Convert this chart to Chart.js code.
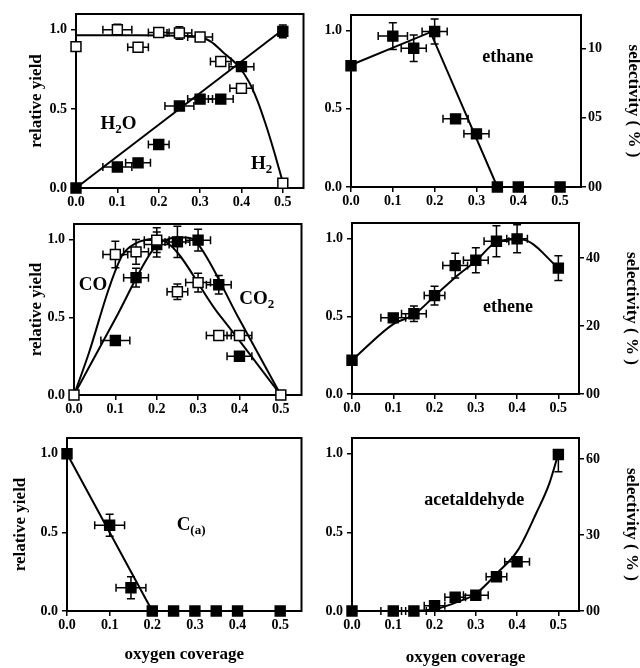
<!DOCTYPE html>
<html lang="en">
<head>
    <meta charset="UTF-8">
    <title>Relative yield vs oxygen coverage</title>
    <script src="https://cdn.jsdelivr.net/npm/chart.js"></script>
    <style>
        body {
            margin: 0;
            background: #fff;
        }
        #figure {
            position: relative;
            width: 640px;
            height: 668px;
            overflow: hidden;
            background: #fff;
        }
        #figure canvas {
            position: absolute;
        }
    </style>
</head>
<body>
    <div id="figure">
        <canvas id="p1" width="312" height="220" style="left:0;top:0"></canvas>
        <canvas id="p2" width="325" height="220" style="left:320px;top:0"></canvas>
        <canvas id="p3" width="310" height="215" style="left:0;top:210px"></canvas>
        <canvas id="p4" width="325" height="215" style="left:320px;top:210px"></canvas>
        <canvas id="p5" width="310" height="243" style="left:0;top:425px"></canvas>
        <canvas id="p6" width="325" height="243" style="left:320px;top:425px"></canvas>
    </div>
    <script>
        // ---- data ----
        const coverage = [0, 0.1, 0.15, 0.2, 0.25, 0.3, 0.35, 0.4, 0.5];
        const xTicks = [0, 0.1, 0.2, 0.3, 0.4, 0.5];
        const yTicks = [0, 0.5, 1.0];

        // H2 (open) and H2O (filled)
        const h2Yield = [0.894, 1.0, 0.89, 0.983, 0.98, 0.955, 0.80, 0.63, 0.03];
        const h2XErr = [0, 0.035, 0.025, 0.025, 0.03, 0.03, 0.025, 0.028, 0];
        const h2YErr = [0, 0.035, 0, 0, 0.04, 0, 0, 0, 0];
        const h2oYield = [0, 0.133, 0.159, 0.275, 0.518, 0.562, 0.562, 0.767, 0.99];
        const h2oXErr = [0, 0.035, 0.03, 0.025, 0.035, 0.03, 0.03, 0.03, 0];
        const h2oYErr = [0, 0, 0, 0, 0, 0, 0, 0, 0.04];
        const h2FitX = [0, 0.15, 0.29, 0.326, 0.358, 0.39, 0.418, 0.438, 0.458, 0.478, 0.5];
        const h2FitY = [0.965, 0.965, 0.958, 0.926, 0.852, 0.778, 0.672, 0.556, 0.408, 0.239, 0.035];
        const h2oFitX = [0, 0.5];
        const h2oFitY = [0, 1.0];

        // ethane
        const ethaneYield = [0.775, 0.965, 0.887, 0.994, 0.436, 0.34, 0, 0, 0];
        const ethaneXErr = [0, 0.035, 0.03, 0.03, 0.03, 0.03, 0, 0, 0];
        const ethaneYErr = [0, 0.085, 0.085, 0.08, 0, 0, 0, 0, 0];
        const ethaneFitX = [0, 0.19, 0.35, 0.5];
        const ethaneFitY = [0.78, 0.99, 0, 0];
        const ethaneSelTicks = [0, 5, 10];
        const ethaneSelLabels = ['00', '05', '10'];

        // CO (open) and CO2 (filled)
        const coYield = [0, 0.904, 0.921, 0.996, 0.664, 0.723, 0.383, 0.383, 0];
        const coXErr = [0, 0.03, 0.03, 0.03, 0.025, 0.03, 0.03, 0.03, 0];
        const coYErr = [0, 0.085, 0.08, 0.08, 0.05, 0.06, 0, 0, 0];
        const co2Coverage = [0.1, 0.15, 0.2, 0.25, 0.3, 0.35, 0.4];
        const co2Yield = [0.351, 0.755, 0.968, 0.985, 0.996, 0.709, 0.249];
        const co2XErr = [0.035, 0.03, 0.03, 0.03, 0.03, 0.03, 0.03];
        const co2YErr = [0, 0.06, 0.08, 0.1, 0.07, 0.06, 0];
        const coFitX = [0, 0.036, 0.085, 0.117, 0.149, 0.2, 0.35, 0.5];
        const coFitY = [0, 0.27, 0.69, 0.90, 0.975, 1.005, 0.52, 0];
        const co2FitX = [0, 0.1, 0.195, 0.22, 0.25, 0.28, 0.3, 0.4, 0.5];
        const co2FitY = [0, 0.49, 0.95, 0.995, 1.015, 1.01, 0.97, 0.485, 0];

        // ethene
        const etheneYield = [0.217, 0.49, 0.516, 0.633, 0.826, 0.86, 0.983, 0.998, 0.81];
        const etheneXErr = [0, 0.03, 0.03, 0.025, 0.03, 0.03, 0.03, 0.025, 0];
        const etheneYErr = [0, 0, 0.05, 0.06, 0.08, 0.08, 0.1, 0.09, 0.08];
        const etheneFitX = [0, 0.1, 0.15, 0.2, 0.25, 0.3, 0.35, 0.4, 0.42, 0.5];
        const etheneFitY = [0.217, 0.45, 0.51, 0.63, 0.75, 0.856, 0.977, 0.995, 0.99, 0.81];
        const etheneSelTicks = [0, 20, 40];
        const etheneSelLabels = ['00', '20', '40'];

        // C(a)
        const carbonYield = [1.0, 0.545, 0.148, 0, 0, 0, 0, 0, 0];
        const carbonXErr = [0, 0.035, 0.035, 0, 0, 0, 0, 0, 0];
        const carbonYErr = [0, 0.07, 0.07, 0, 0, 0, 0, 0, 0];
        const carbonFitX = [0, 0.2, 0.5];
        const carbonFitY = [1.0, 0, 0];

        // acetaldehyde
        const acetYield = [0, 0, 0, 0.034, 0.087, 0.10, 0.218, 0.313, 0.995];
        const acetXErr = [0, 0.03, 0.03, 0.025, 0.025, 0.03, 0.025, 0.03, 0];
        const acetYErr = [0, 0, 0, 0, 0, 0, 0, 0, [0.11, 0]];
        const acetFitX = [0, 0.15, 0.21, 0.257, 0.3, 0.351, 0.402, 0.446, 0.478, 0.5];
        const acetFitY = [0, 0, 0.017, 0.059, 0.11, 0.239, 0.387, 0.62, 0.81, 1.0];
        const acetSelTicks = [0, 30, 60];
        const acetSelLabels = ['00', '30', '60'];

        // ---- drawing ----
        const family = '"Liberation Serif", "Times New Roman", serif';
        const tickFont = { family, size: 14, weight: 'bold' };
        const titleFont = { family, size: 17, weight: 'bold' };

        const pts = (xs, ys) => xs.map((x, i) => ({ x, y: ys[i] }));

        const markers = (xs, ys, errX, errY, open) => ({
            data: pts(xs, ys),
            showLine: false,
            pointStyle: 'rect',
            pointRadius: 7,
            pointBorderWidth: 1.5,
            pointBorderColor: '#000',
            pointBackgroundColor: open ? '#fff' : '#000',
            errX, errY,
            clip: false,
        });

        const fit = (xs, ys, smooth) => ({
            data: pts(xs, ys),
            showLine: true,
            borderColor: '#000',
            borderWidth: 2,
            pointRadius: 0,
            tension: 0,
            cubicInterpolationMode: smooth ? 'monotone' : 'default',
            clip: false,
        });

        const frame = {
            id: 'frame',
            beforeDatasetsDraw(chart) {
                const { ctx, chartArea: a } = chart;
                ctx.save();
                ctx.strokeStyle = '#000';
                ctx.lineWidth = 2;
                ctx.strokeRect(a.left, a.top, a.right - a.left, a.bottom - a.top);
                ctx.restore();
            }
        };

        const errorBars = {
            id: 'errorBars',
            beforeDatasetsDraw(chart) {
                const { ctx, scales: { x, y } } = chart;
                ctx.save();
                ctx.strokeStyle = '#000';
                ctx.lineWidth = 1.5;
                chart.data.datasets.forEach(ds => {
                    if (!ds.errX) return;
                    ds.data.forEach((p, i) => {
                        const px = x.getPixelForValue(p.x);
                        const py = y.getPixelForValue(p.y);
                        const ex = ds.errX[i];
                        ctx.beginPath();
                        if (ex) {
                            const a = x.getPixelForValue(p.x - ex);
                            const b = x.getPixelForValue(p.x + ex);
                            ctx.moveTo(a, py); ctx.lineTo(b, py);
                            ctx.moveTo(a, py - 4); ctx.lineTo(a, py + 4);
                            ctx.moveTo(b, py - 4); ctx.lineTo(b, py + 4);
                        }
                        const ey = ds.errY[i];
                        if (ey) {
                            const [lo, hi] = Array.isArray(ey) ? ey : [ey, ey];
                            const a = y.getPixelForValue(p.y - lo);
                            const b = y.getPixelForValue(p.y + hi);
                            ctx.moveTo(px, a); ctx.lineTo(px, b);
                            if (lo) { ctx.moveTo(px - 4, a); ctx.lineTo(px + 4, a); }
                            if (hi) { ctx.moveTo(px - 4, b); ctx.lineTo(px + 4, b); }
                        }
                        ctx.stroke();
                    });
                });
                ctx.restore();
            }
        };

        const notes = {
            id: 'notes',
            afterDatasetsDraw(chart, args, opts) {
                const { ctx, scales: { x, y } } = chart;
                ctx.save();
                ctx.fillStyle = '#000';
                ctx.textBaseline = 'middle';
                ctx.textAlign = 'left';
                (opts.items || []).forEach(item => {
                    const size = item.size || 18;
                    const main = `bold ${size}px ${family}`;
                    const sub = `bold ${Math.round(size * 0.7)}px ${family}`;
                    let w = 0;
                    item.parts.forEach(([t, s]) => { ctx.font = s ? sub : main; w += ctx.measureText(t).width; });
                    let px = x.getPixelForValue(item.x) - w / 2;
                    const py = y.getPixelForValue(item.y);
                    item.parts.forEach(([t, s]) => {
                        ctx.font = s ? sub : main;
                        ctx.fillText(t, px, s ? py + 6 : py);
                        px += ctx.measureText(t).width;
                    });
                });
                ctx.restore();
            }
        };

        const tickGrid = (len) => ({
            display: true, drawOnChartArea: false, drawTicks: true,
            tickLength: len, color: '#000', lineWidth: 1.5,
        });

        function panel(id, datasets, o) {
            const scales = {
                x: {
                    type: 'linear', min: 0, max: o.xMax,
                    grid: tickGrid(5), border: { display: false },
                    afterBuildTicks: s => { s.ticks = xTicks.map(v => ({ value: v })); },
                    afterFit: s => { s.height = o.hb; },
                    ticks: { font: tickFont, color: '#000', padding: 1, autoSkip: false, maxRotation: 0, callback: v => v.toFixed(1) },
                    title: o.xTitle == null ? { display: false } : {
                        display: true, text: 'oxygen coverage', font: titleFont, color: '#000',
                        padding: { top: 0, bottom: o.xTitle }
                    },
                },
                y: {
                    type: 'linear', position: 'left', min: 0, max: 1.1,
                    grid: tickGrid(5), border: { display: false },
                    afterBuildTicks: s => { s.ticks = yTicks.map(v => ({ value: v })); },
                    afterFit: s => { s.width = o.wl; },
                    ticks: { font: tickFont, color: '#000', padding: 4, callback: v => v.toFixed(1) },
                    title: o.yTitle == null ? { display: false } : {
                        display: true, text: 'relative yield', font: titleFont, color: '#000',
                        padding: { top: o.yTitle, bottom: 0 }
                    },
                },
            };
            if (o.sel) {
                scales.y2 = {
                    type: 'linear', position: 'right', min: 0, max: o.sel.max,
                    grid: tickGrid(5), border: { display: false },
                    afterBuildTicks: s => { s.ticks = o.sel.ticks.map(v => ({ value: v })); },
                    afterFit: s => { s.width = o.wr; },
                    ticks: { font: tickFont, color: '#000', padding: 2, callback: (v, i) => o.sel.labels[i] },
                    title: {
                        display: true, text: 'selectivity ( % )', font: titleFont, color: '#000',
                        padding: { top: o.sel.titlePad, bottom: 0 }
                    },
                };
            }
            return new Chart(document.getElementById(id), {
                type: 'scatter',
                data: { datasets },
                options: {
                    responsive: false,
                    animation: false,
                    events: [],
                    layout: { padding: { left: 0, top: o.pt, right: o.pr || 0, bottom: 0 } },
                    scales,
                    plugins: {
                        legend: { display: false },
                        tooltip: { enabled: false },
                        notes: { items: o.notes },
                    },
                },
                plugins: [frame, errorBars, notes],
            });
        }

        panel('p1', [
            markers(coverage, h2Yield, h2XErr, h2YErr, true),
            markers(coverage, h2oYield, h2oXErr, h2oYErr, false),
            fit(h2FitX, h2FitY, true),
            fit(h2oFitX, h2oFitY, false),
        ], {
            xMax: 0.55, pt: 14, pr: 7, wl: 76, hb: 32, yTitle: 26,
            notes: [
                { x: 0.103, y: 0.405, size: 19, parts: [['H', 0], ['2', 1], ['O', 0]] },
                { x: 0.449, y: 0.152, size: 19, parts: [['H', 0], ['2', 1]] },
            ],
        });

        panel('p2', [
            markers(coverage, ethaneYield, ethaneXErr, ethaneYErr, false),
            fit(ethaneFitX, ethaneFitY, false),
        ], {
            xMax: 0.55, pt: 15, wl: 31, wr: 64, hb: 33,
            sel: { max: 12.4, ticks: ethaneSelTicks, labels: ethaneSelLabels, titlePad: 1 },
            notes: [{ x: 0.375, y: 0.831, parts: [['ethane', 0]] }],
        });

        panel('p3', [
            markers(coverage, coYield, coXErr, coYErr, true),
            markers(co2Coverage, co2Yield, co2XErr, co2YErr, false),
            fit(coFitX, coFitY, true),
            fit(co2FitX, co2FitY, true),
        ], {
            xMax: 0.55, pt: 14, pr: 7, wl: 74, hb: 30, yTitle: 26,
            notes: [
                { x: 0.046, y: 0.708, size: 19, parts: [['CO', 0]] },
                { x: 0.442, y: 0.618, size: 19, parts: [['CO', 0], ['2', 1]] },
            ],
        });

        panel('p4', [
            markers(coverage, etheneYield, etheneXErr, etheneYErr, false),
            fit(etheneFitX, etheneFitY, true),
        ], {
            xMax: 0.55, pt: 13, wl: 32, wr: 66, hb: 31,
            sel: { max: 50.3, ticks: etheneSelTicks, labels: etheneSelLabels, titlePad: 3 },
            notes: [{ x: 0.378, y: 0.555, parts: [['ethene', 0]] }],
        });

        panel('p5', [
            markers(coverage, carbonYield, carbonXErr, carbonYErr, false),
            fit(carbonFitX, carbonFitY, false),
        ], {
            xMax: 0.55, pt: 13, pr: 7, wl: 67, hb: 57, yTitle: 10, xTitle: 3,
            notes: [{ x: 0.291, y: 0.547, size: 19, parts: [['C', 0], ['(a)', 1]] }],
        });

        panel('p6', [
            markers(coverage, acetYield, acetXErr, acetYErr, false),
            fit(acetFitX, acetFitY, true),
        ], {
            xMax: 0.55, pt: 13, wl: 32, wr: 66, hb: 57, xTitle: 0,
            sel: { max: 68.3, ticks: acetSelTicks, labels: acetSelLabels, titlePad: 3 },
            notes: [{ x: 0.296, y: 0.706, parts: [['acetaldehyde', 0]] }],
        });
    </script>
</body>
</html>
